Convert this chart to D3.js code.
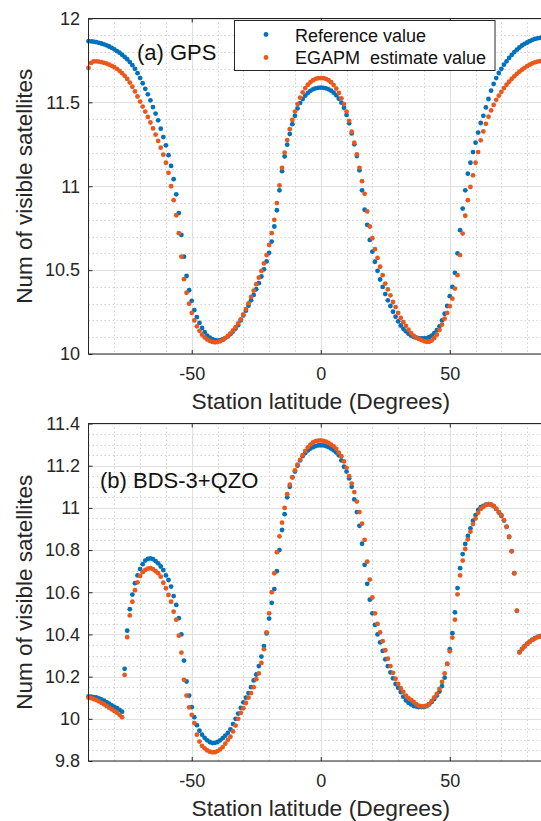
<!DOCTYPE html>
<html>
<head>
<meta charset="utf-8">
<script src="https://cdn.jsdelivr.net/npm/d3@7"></script>
<style>
  body { margin: 0; background: #fff; }
  svg { display: block; font-family: "Liberation Sans", Arial, Helvetica, sans-serif; }
</style>
</head>
<body>
<div id="chart"></div>
<script>
// Station latitudes, one sample per degree.
const latitude = d3.range(-90, 91);

// (a) GPS: reference and EGAPM estimate, -90 .. 90.
const gpsRef = [
  11.865, 11.864, 11.862, 11.859, 11.855, 11.851, 11.846, 11.840, 11.833, 11.825,
  11.816, 11.806, 11.796, 11.784, 11.771, 11.757, 11.740, 11.722, 11.700, 11.674,
  11.645, 11.614, 11.581, 11.548, 11.512, 11.472, 11.433, 11.393, 11.343, 11.293,
  11.244, 11.185, 11.121, 11.042, 10.952, 10.840, 10.710, 10.580, 10.465, 10.380,
  10.317, 10.262, 10.220, 10.185, 10.155, 10.130, 10.110, 10.097, 10.088, 10.082,
  10.080, 10.082, 10.087, 10.095, 10.105, 10.118, 10.134, 10.152, 10.172, 10.200,
  10.230, 10.258, 10.288, 10.320, 10.352, 10.386, 10.422, 10.462, 10.505, 10.552,
  10.603, 10.670, 10.760, 10.857, 10.976, 11.090, 11.178, 11.248, 11.312, 11.370,
  11.420, 11.464, 11.496, 11.520, 11.540, 11.556, 11.569, 11.578, 11.584, 11.587,
  11.588,
  11.587, 11.584, 11.578, 11.570, 11.558, 11.542, 11.522, 11.498, 11.468, 11.425,
  11.375, 11.315, 11.250, 11.180, 11.095, 10.976, 10.860, 10.770, 10.680, 10.610,
  10.550, 10.496, 10.444, 10.400, 10.357, 10.320, 10.286, 10.252, 10.222, 10.195,
  10.170, 10.150, 10.135, 10.120, 10.110, 10.102, 10.097, 10.094, 10.093, 10.093,
  10.095, 10.100, 10.110, 10.125, 10.142, 10.165, 10.200, 10.240, 10.286, 10.345,
  10.400, 10.484, 10.600, 10.738, 10.867, 10.976, 11.075, 11.140, 11.204, 11.260,
  11.320, 11.377, 11.420, 11.470, 11.520, 11.570, 11.610, 11.645, 11.675, 11.700,
  11.725, 11.745, 11.765, 11.783, 11.800, 11.814, 11.827, 11.839, 11.849, 11.857,
  11.865, 11.872, 11.878, 11.882, 11.885, 11.886, 11.886, 11.886, 11.885, 11.884
];
const gpsEst = [
  11.705, 11.735, 11.744, 11.745, 11.743, 11.740, 11.736, 11.731, 11.725, 11.718,
  11.710, 11.700, 11.688, 11.674, 11.658, 11.640, 11.618, 11.593, 11.565, 11.535,
  11.505, 11.475, 11.445, 11.413, 11.380, 11.345, 11.308, 11.270, 11.230, 11.188,
  11.140, 11.080, 11.000, 10.917, 10.827, 10.720, 10.580, 10.446, 10.365, 10.300,
  10.245, 10.200, 10.165, 10.138, 10.115, 10.099, 10.087, 10.078, 10.072, 10.070,
  10.071, 10.076, 10.084, 10.095, 10.108, 10.123, 10.140, 10.160, 10.182, 10.207,
  10.236, 10.268, 10.302, 10.340, 10.378, 10.416, 10.455, 10.495, 10.540, 10.590,
  10.650, 10.720, 10.800, 10.900, 11.005, 11.110, 11.200, 11.275, 11.340, 11.395,
  11.445, 11.490, 11.528, 11.560, 11.585, 11.605, 11.620, 11.632, 11.640, 11.644,
  11.645,
  11.644, 11.640, 11.632, 11.620, 11.603, 11.582, 11.556, 11.524, 11.490, 11.445,
  11.390, 11.325, 11.260, 11.190, 11.110, 11.030, 10.955, 10.850, 10.760, 10.690,
  10.625, 10.573, 10.520, 10.470, 10.420, 10.385, 10.350, 10.310, 10.280, 10.245,
  10.215, 10.190, 10.168, 10.145, 10.125, 10.110, 10.098, 10.090, 10.083, 10.077,
  10.073, 10.073, 10.080, 10.095, 10.115, 10.143, 10.175, 10.210, 10.245, 10.285,
  10.330, 10.390, 10.470, 10.590, 10.718, 10.824, 10.917, 10.996, 11.065, 11.140,
  11.204, 11.274, 11.327, 11.372, 11.415, 11.452, 11.485, 11.515, 11.540, 11.563,
  11.585, 11.605, 11.623, 11.640, 11.655, 11.670, 11.683, 11.695, 11.706, 11.716,
  11.725, 11.733, 11.739, 11.743, 11.746, 11.747, 11.747, 11.746, 11.744, 11.742
];

// (b) BDS-3+QZO: reference and EGAPM estimate, -90 .. 90.
const bdsRef = [
  10.106, 10.105, 10.103, 10.101, 10.097, 10.092, 10.086, 10.079, 10.072, 10.064,
  10.056, 10.050, 10.042, 10.034, 10.237, 10.418, 10.520, 10.589, 10.643, 10.680,
  10.710, 10.733, 10.750, 10.758, 10.761, 10.757, 10.748, 10.737, 10.722, 10.705,
  10.680, 10.658, 10.627, 10.582, 10.540, 10.477, 10.400, 10.276, 10.177, 10.110,
  10.055, 10.008, 9.970, 9.944, 9.925, 9.910, 9.898, 9.890, 9.885, 9.886,
  9.890, 9.898, 9.908, 9.920, 9.933, 9.950, 9.975, 10.000, 10.025, 10.052,
  10.078, 10.100, 10.122, 10.150, 10.182, 10.210, 10.250, 10.295, 10.345, 10.405,
  10.475, 10.550, 10.615, 10.700, 10.800, 10.895, 10.970, 11.050, 11.100, 11.145,
  11.172, 11.200, 11.225, 11.245, 11.260, 11.272, 11.281, 11.288, 11.293, 11.296,
  11.297,
  11.296, 11.293, 11.288, 11.281, 11.273, 11.262, 11.249, 11.225, 11.195, 11.172,
  11.140, 11.100, 11.040, 10.980, 10.915, 10.830, 10.730, 10.640, 10.565, 10.500,
  10.445, 10.400, 10.362, 10.322, 10.282, 10.250, 10.220, 10.192, 10.165, 10.147,
  10.127, 10.105, 10.087, 10.076, 10.068, 10.061, 10.058, 10.056, 10.056, 10.056,
  10.060, 10.068, 10.080, 10.094, 10.110, 10.129, 10.155, 10.195, 10.260, 10.330,
  10.406, 10.505, 10.620, 10.714, 10.781, 10.829, 10.867, 10.903, 10.939, 10.966,
  10.990, 11.003, 11.009, 11.015, 11.018, 11.014, 11.008, 10.995, 10.978, 10.962,
  10.940, 10.910, 10.862, 10.794, 10.690, 10.512, 10.316, 10.331, 10.344, 10.356,
  10.366, 10.375, 10.382, 10.388, 10.392, 10.396, 10.399, 10.401, 10.402, 10.403
];
const bdsEst = [
  10.100, 10.098, 10.094, 10.089, 10.083, 10.076, 10.069, 10.061, 10.053, 10.045,
  10.037, 10.029, 10.019, 10.008, 10.208, 10.387, 10.490, 10.555, 10.610, 10.647,
  10.677, 10.695, 10.706, 10.712, 10.714, 10.709, 10.700, 10.690, 10.674, 10.645,
  10.619, 10.587, 10.555, 10.508, 10.470, 10.394, 10.314, 10.185, 10.110, 10.054,
  10.019, 9.980, 9.925, 9.892, 9.872, 9.860, 9.850, 9.844, 9.841, 9.842,
  9.847, 9.855, 9.866, 9.882, 9.900, 9.915, 9.940, 9.968, 10.000, 10.028,
  10.050, 10.075, 10.100, 10.122, 10.150, 10.188, 10.215, 10.265, 10.330, 10.410,
  10.500, 10.600, 10.690, 10.790, 10.865, 10.930, 11.000, 11.065, 11.110, 11.145,
  11.178, 11.205, 11.228, 11.250, 11.270, 11.287, 11.300, 11.310, 11.316, 11.319,
  11.320,
  11.318, 11.314, 11.308, 11.300, 11.292, 11.280, 11.262, 11.245, 11.220, 11.190,
  11.150, 11.115, 11.075, 11.030, 10.980, 10.925, 10.848, 10.745, 10.660, 10.575,
  10.500, 10.450, 10.410, 10.368, 10.325, 10.285, 10.250, 10.218, 10.190, 10.165,
  10.145, 10.128, 10.110, 10.098, 10.090, 10.080, 10.069, 10.062, 10.059, 10.059,
  10.062, 10.070, 10.085, 10.102, 10.118, 10.142, 10.175, 10.215, 10.260, 10.320,
  10.385, 10.470, 10.590, 10.680, 10.750, 10.805, 10.851, 10.887, 10.923, 10.950,
  10.977, 10.995, 11.005, 11.013, 11.018, 11.016, 11.009, 10.996, 10.980, 10.965,
  10.942, 10.911, 10.863, 10.795, 10.690, 10.513, 10.314, 10.330, 10.343, 10.355,
  10.365, 10.374, 10.381, 10.387, 10.391, 10.395, 10.398, 10.400, 10.401, 10.402
];

// Ticks and labels.
const xTicks = [-50, 0, 50];
const yTicksGps = [10, 10.5, 11, 11.5, 12];
const yTicksBds = [9.8, 10, 10.2, 10.4, 10.6, 10.8, 11, 11.2, 11.4];
const seriesNames = ["Reference value", "EGAPM  estimate value"];
const panelTitles = ["(a) GPS", "(b) BDS-3+QZO"];
const xLabel = "Station latitude (Degrees)";
const yLabel = "Num of visible satellites";

// Chart dimensions.
const width = 541;
const height = 821;
const colors = ["#0072bd", "#eb581b"];
const axisColor = "#262626";

const x = d3.scaleLinear()
  .domain([-90, 90])
  .range([88.5, 553]);

const panels = [
  {top: 18.5, bottom: 354, domain: [10, 12], ticks: yTicksGps, minor: 0.1,
   title: panelTitles[0], titleX: 137, titleY: 59.5, ref: gpsRef, est: gpsEst, legend: true},
  {top: 423.5, bottom: 761, domain: [9.8, 11.4], ticks: yTicksBds, minor: 0.05,
   title: panelTitles[1], titleX: 100, titleY: 487.5, ref: bdsRef, est: bdsEst, legend: false}
];

const svg = d3.select("#chart").append("svg")
  .attr("width", width)
  .attr("height", height)
  .attr("viewBox", [0, 0, width, height]);

const snap = v => Math.round(v) + 0.5;

panels.forEach(p => {
  const y = d3.scaleLinear().domain(p.domain).range([p.bottom, p.top]);
  const g = svg.append("g");
  const [x0, x1] = x.range();

  // Minor grid (dotted), every 10 degrees and every p.minor units.
  const minorX = d3.range(-80, 90, 10).filter(v => !xTicks.includes(v));
  const nMinor = Math.round((p.domain[1] - p.domain[0]) / p.minor);
  const minorY = d3.range(1, nMinor)
    .map(i => +(p.domain[0] + i * p.minor).toFixed(3))
    .filter(v => !p.ticks.some(t => Math.abs(t - v) < 1e-6));

  g.append("g")
    .attr("stroke", "#d4d4d4")
    .attr("stroke-width", 1)
    .attr("stroke-dasharray", "1.5,2.5")
    .call(s => s.selectAll(".mx").data(minorX).join("line")
      .attr("x1", d => snap(x(d))).attr("x2", d => snap(x(d)))
      .attr("y1", p.top).attr("y2", p.bottom))
    .call(s => s.selectAll(".my").data(minorY).join("line")
      .attr("y1", d => snap(y(d))).attr("y2", d => snap(y(d)))
      .attr("x1", x0).attr("x2", x1));

  // Major grid (solid).
  g.append("g")
    .attr("stroke", "#e0e0e0")
    .attr("stroke-width", 1)
    .call(s => s.selectAll(".gx").data(xTicks).join("line")
      .attr("x1", d => snap(x(d))).attr("x2", d => snap(x(d)))
      .attr("y1", p.top).attr("y2", p.bottom))
    .call(s => s.selectAll(".gy").data(p.ticks).join("line")
      .attr("y1", d => snap(y(d))).attr("y2", d => snap(y(d)))
      .attr("x1", x0).attr("x2", x1));

  // Points: reference first, estimate on top.
  [p.ref, p.est].forEach((values, k) => {
    g.append("g")
      .attr("fill", colors[k])
      .selectAll("circle")
      .data(latitude.map((lat, i) => [lat, values[i]]))
      .join("circle")
      .attr("cx", d => x(d[0]))
      .attr("cy", d => y(d[1]))
      .attr("r", 2.4);
  });

  // Axes with inward ticks.
  g.append("g")
    .attr("transform", `translate(0,${p.bottom})`)
    .call(d3.axisBottom(x).tickValues(xTicks).tickFormat(d => String(d))
      .tickSizeInner(-4).tickSizeOuter(0).tickPadding(13.5))
    .call(a => a.select(".domain").remove());

  g.append("g")
    .attr("transform", `translate(0,${p.top})`)
    .call(d3.axisTop(x).tickValues(xTicks).tickFormat("")
      .tickSizeInner(-4).tickSizeOuter(0))
    .call(a => a.select(".domain").remove());

  g.append("g")
    .attr("transform", `translate(${x0},0)`)
    .call(d3.axisLeft(y).tickValues(p.ticks).tickFormat(d => String(d))
      .tickSizeInner(-4).tickSizeOuter(0).tickPadding(8.5))
    .call(a => a.select(".domain").remove());

  g.selectAll(".tick text")
    .attr("font-size", 18)
    .attr("fill", axisColor);
  g.selectAll(".tick line").attr("stroke", axisColor);
  g.selectAll("g[font-family]").attr("font-family", null);

  // Box.
  g.append("rect")
    .attr("x", x0).attr("y", p.top)
    .attr("width", x1 - x0).attr("height", p.bottom - p.top)
    .attr("fill", "none")
    .attr("stroke", axisColor)
    .attr("stroke-width", 1);

  // Panel title.
  g.append("text")
    .attr("x", p.titleX).attr("y", p.titleY)
    .attr("font-size", 22)
    .attr("fill", "#111")
    .text(p.title);

  // Axis labels.
  g.append("text")
    .attr("x", (x0 + x1) / 2)
    .attr("y", p.bottom + 55)
    .attr("text-anchor", "middle")
    .attr("font-size", 22.8)
    .attr("fill", axisColor)
    .text(xLabel);

  g.append("text")
    .attr("transform", `translate(31.5,${(p.top + p.bottom) / 2}) rotate(-90)`)
    .attr("text-anchor", "middle")
    .attr("font-size", 22.5)
    .attr("fill", axisColor)
    .text(yLabel);

  // Legend.
  if (p.legend) {
    const lg = g.append("g");
    lg.append("rect")
      .attr("x", 234.5).attr("y", 20.5)
      .attr("width", 260.5).attr("height", 50)
      .attr("fill", "#fff")
      .attr("stroke", axisColor)
      .attr("stroke-width", 1);
    seriesNames.forEach((name, k) => {
      lg.append("circle")
        .attr("cx", 266).attr("cy", 34.5 + k * 23)
        .attr("r", 2.4)
        .attr("fill", colors[k]);
      lg.append("text")
        .attr("x", 295).attr("y", 41.5 + k * 22.5)
        .attr("font-size", 18)
        .attr("fill", "#111")
        .style("white-space", "pre")
        .text(name);
    });
  }
});
</script>
</body>
</html>
